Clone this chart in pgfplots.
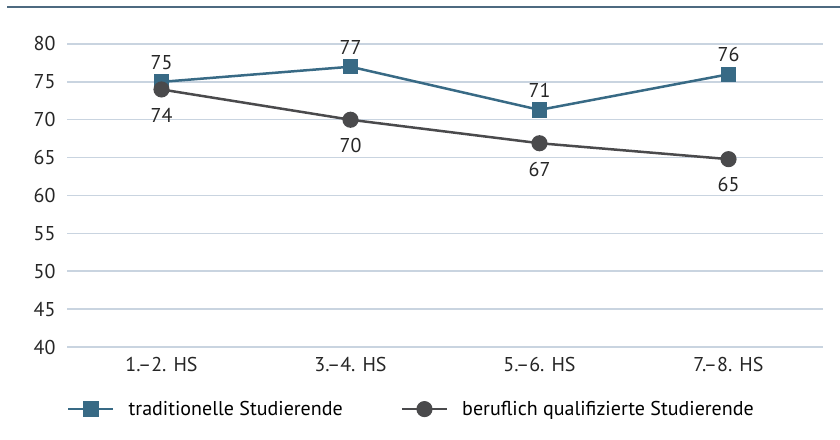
\documentclass[border=0pt]{standalone}
\usepackage{pgfplots}
\pgfplotsset{compat=1.18}
\usepackage{fontspec}
\setmainfont{PT Sans}
\definecolor{tradblue}{HTML}{386A85}
\definecolor{berufgray}{HTML}{4A4A4C}
\definecolor{gridc}{HTML}{C9D4E0}
\definecolor{topline}{HTML}{4E6A80}
\begin{document}
\begin{tikzpicture}[x=1pt,y=1pt]
\path[use as bounding box] (0,0) rectangle (840,439);
\draw[topline,line width=1.5pt] (7,432) -- (840,432);
\begin{axis}[
  at={(67pt,92pt)}, anchor=south west,
  scale only axis, width=756pt, height=303pt,
  xmin=-0.5, xmax=3.5, ymin=40, ymax=80,
  xtick={0,1,2,3}, xticklabels={1.--2. HS,3.--4. HS,5.--6. HS,7.--8. HS},
  ytick={40,45,...,80},
  axis line style={draw=none},
  major tick length=0pt,
  ymajorgrids, grid style={gridc, line width=1.5pt},
  tick label style={font=\fontsize{20}{23}\selectfont, text=black!85},
  yticklabel style={xshift=-8pt},
  xticklabel style={yshift=-7pt},
  /pgf/number format/assume math mode=true,
  legend style={draw=none, at={(0,-0.205)}, anchor=west, font=\fontsize{20}{23}\selectfont,
    legend columns=2, column sep=12pt, inner xsep=0pt, /tikz/every even column/.append style={column sep=56pt}},
  legend image code/.code={\draw[#1, mark repeat=2, mark phase=2] plot coordinates {(0pt,0pt) (22.5pt,0pt) (45pt,0pt)};},
  legend cell align=left,
  clip=false,
]
\addplot[tradblue, line width=2.5pt, mark=square*, mark size=6.5pt, mark options={solid},
  nodes near coords, point meta=explicit symbolic,
  every node near coord/.style={font=\fontsize{20}{23}\selectfont, text=black!85, anchor=south, yshift=8pt}]
  coordinates {(0,75)[75] (1,77)[77] (2,71.3)[71] (3,76)[76]};
\addlegendentry{traditionelle Studierende}
\addplot[berufgray, line width=2.5pt, mark=*, mark size=6.8pt,
  nodes near coords, point meta=explicit symbolic,
  every node near coord/.style={font=\fontsize{20}{23}\selectfont, text=black!85, anchor=north, yshift=-14pt}]
  coordinates {(0,74)[74] (1,70)[70] (2,66.9)[67] (3,64.8)[65]};
\addlegendentry{beruflich qualifizierte Studierende}
\end{axis}
\end{tikzpicture}
\end{document}
